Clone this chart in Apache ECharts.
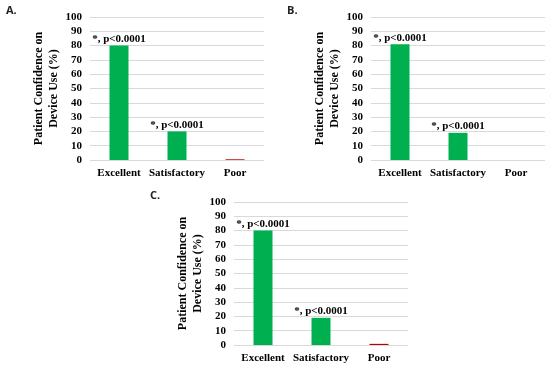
<!DOCTYPE html>
<html><head><meta charset="utf-8">
<script src="https://cdn.jsdelivr.net/npm/echarts@6/dist/echarts.min.js"></script>
<style>html,body{margin:0;padding:0;background:#fff}#c{width:550px;height:369px}</style>
</head><body><div id="c"></div>
<script>
const categories = ['Excellent', 'Satisfactory', 'Poor'];
const panelA = [80, 20, 0.5];
const panelB = [81, 19, 0];
const panelC = [80, 19, 0.8];
const annotations = ['*, p<0.0001', '*, p<0.0001', ''];
const yTicks = [0, 10, 20, 30, 40, 50, 60, 70, 80, 90, 100];
const panelNames = ['A.', 'B.', 'C.'];

const barColors = ['#00B050', '#00B050', '#C00000'];
const serif = '"Liberation Serif", "Times New Roman", serif';
const grids = [
  {left: 90, top: 17, width: 174, height: 143},
  {left: 371, top: 17, width: 174, height: 143},
  {left: 234, top: 202, width: 174, height: 143}
];
const datasets = [panelA, panelB, panelC];

const chart = echarts.init(document.getElementById('c'), null, {renderer: 'canvas'});
const option = {
  animation: false,
  backgroundColor: '#fff',
  title: [
    {text: panelNames[0], left: 6, top: 5},
    {text: panelNames[1], left: 287, top: 5},
    {text: panelNames[2], left: 150, top: 190}
  ].map(t => Object.assign(t, {padding: 0, textStyle: {fontFamily: '"Open Sans", "Liberation Sans", sans-serif', fontWeight: 'bold', fontSize: 11, color: '#222'}})),
  grid: grids,
  xAxis: grids.map((g, i) => ({
    type: 'category', gridIndex: i, data: categories,
    axisLine: {show: false}, axisTick: {show: false},
    axisLabel: {fontFamily: serif, fontWeight: 'bold', fontSize: 11, color: '#000', margin: 8, interval: 0}
  })),
  yAxis: grids.map((g, i) => ({
    type: 'value', gridIndex: i, min: yTicks[0], max: yTicks[yTicks.length - 1], interval: yTicks[1] - yTicks[0],
    name: 'Patient Confidence on\nDevice Use (%)', nameLocation: 'middle', nameGap: 27,
    nameTextStyle: {fontFamily: serif, fontWeight: 'bold', fontSize: 12, color: '#000', lineHeight: 15},
    axisLine: {show: false}, axisTick: {show: false},
    axisLabel: {fontFamily: serif, fontWeight: 'bold', fontSize: 11, color: '#000', margin: 8},
    splitLine: {lineStyle: {color: '#d9d9d9', width: 1}}
  })),
  series: datasets.map((vals, i) => ({
    type: 'bar', xAxisIndex: i, yAxisIndex: i, barWidth: 19,
    data: vals.map((v, j) => ({
      value: v,
      itemStyle: {color: barColors[j]},
      label: {show: annotations[j] !== '', formatter: annotations[j], position: 'top', distance: 1,
        fontFamily: serif, fontWeight: 'bold', fontSize: 11, color: '#000'}
    }))
  }))
};
chart.setOption(option);
</script></body></html>
